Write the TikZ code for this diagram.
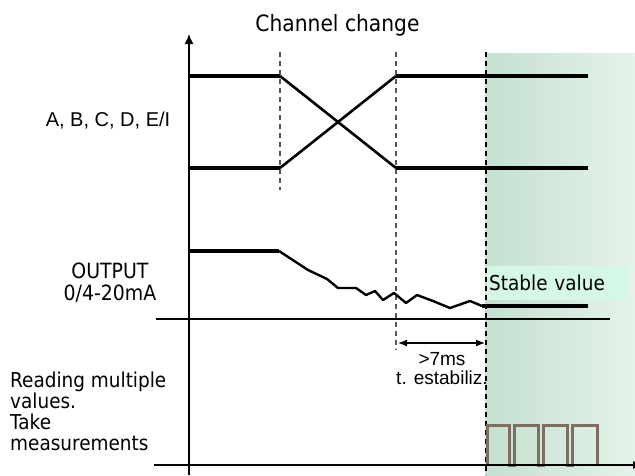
\documentclass[tikz,border=0pt]{standalone}
\usepackage{fontspec}
\newfontfamily\tah[FakeStretch=0.9]{DejaVu Sans}
\newfontfamily\arl{Liberation Sans}
\usetikzlibrary{arrows.meta}
\definecolor{gL}{HTML}{C4E0D0}
\definecolor{gR}{HTML}{E4F3EB}
\definecolor{mint}{HTML}{D5F7E5}
\definecolor{pulsec}{HTML}{7D6E61}
\definecolor{dgray}{HTML}{555555}
\tikzset{
  sighor/.style={line width=3.8pt},
  sigdiag/.style={line width=2.6pt},
  jag/.style={line width=2.4pt, line join=round},
  axisline/.style={line width=1.3pt},
  dashline/.style={line width=1.2pt, dash pattern=on 5pt off 4pt},
  pulseline/.style={line width=3pt, pulsec},
  tahtxt/.style={inner sep=0pt, font=\tah\fontsize{20.5}{21}\selectfont},
  arltxt/.style={inner sep=0pt, font=\arl\fontsize{19}{19}\selectfont},
}
\begin{document}
\begin{tikzpicture}[x=1pt,y=-1pt]
\useasboundingbox (0,0) rectangle (635,475);
% shaded stable zone
\shade[left color=gL, right color=gR] (485,53) rectangle (635,475);
\node[fill=mint, anchor=west, inner xsep=2pt, inner ysep=0pt, minimum height=34pt,
      text width=137pt, align=left, font=\tah\fontsize{20.5}{21}\selectfont] (stable) at (487,283) {Stable value};
% dashed markers
\draw[dashline, dgray] (280,52) -- (280,190);
\draw[dashline, dgray] (396,52) -- (396,350);
\draw[dashline, black] (486,52) -- (486,475);
% channel signals
\draw[sighor] (189,76) -- (280,76);
\draw[sigdiag] (280,76) -- (396,168);
\draw[sighor] (396,168) -- (588,168);
\draw[sighor] (189,168) -- (280,168);
\draw[sigdiag] (280,168) -- (396,76);
\draw[sighor] (396,76) -- (588,76);
% output
\draw[sighor] (189,251) -- (279,251);
\draw[jag] (279,251) -- (308,270) -- (327,279) -- (338,288) -- (356,288) -- (366,295) -- (375,291)
  -- (383,300) -- (394,293) -- (406,303) -- (417,295) -- (433,301) -- (450,308) -- (470,301) -- (482,306);
\draw[sighor] (482,306) -- (588,306);
% pulses
\draw[pulseline] (487,465) -- (487,425) -- (509,425) -- (509,465) -- (514,465) -- (514,425) -- (538,425)
  -- (538,465) -- (543,465) -- (543,425) -- (567,425) -- (567,465) -- (572,465) -- (572,425) -- (597,425) -- (597,465);
% axes
\draw[axisline, -{Latex[length=10pt,width=9pt]}] (189,475) -- (189,34);
\draw[axisline] (156,319) -- (610,319);
\draw[axisline, -{Latex[length=10pt,width=8pt]}] (154,465) -- (643,465);
% stabilisation arrow
\coordinate (s1) at (398,343);
\coordinate (s2) at (485,343);
\draw[line width=1.2pt, {Latex[length=9pt,width=7pt]}-{Latex[length=9pt,width=7pt]}] (s1) -- (s2);
% texts
\node[inner sep=0pt, anchor=base, font=\tah\fontsize{22.5}{24}\selectfont] (title) at (337.5,31) {Channel change};
\node[inner sep=0pt, anchor=base, font=\arl\fontsize{20}{22}\selectfont] (abc) at (108,126) {A, B, C, D, E/I};
\node[tahtxt, anchor=north, align=center, font=\tah\fontsize{21}{22}\selectfont] (out) at (110,263) {OUTPUT\\0/4-20mA};
\node[tahtxt, anchor=north west, align=left] (read) at (10,372) {Reading multiple\\values.\\Take\\measurements};
\node[arltxt, anchor=north, align=center] (stab) at (442,352) {>7ms\\t. estabiliz.};
\end{tikzpicture}
\end{document}
